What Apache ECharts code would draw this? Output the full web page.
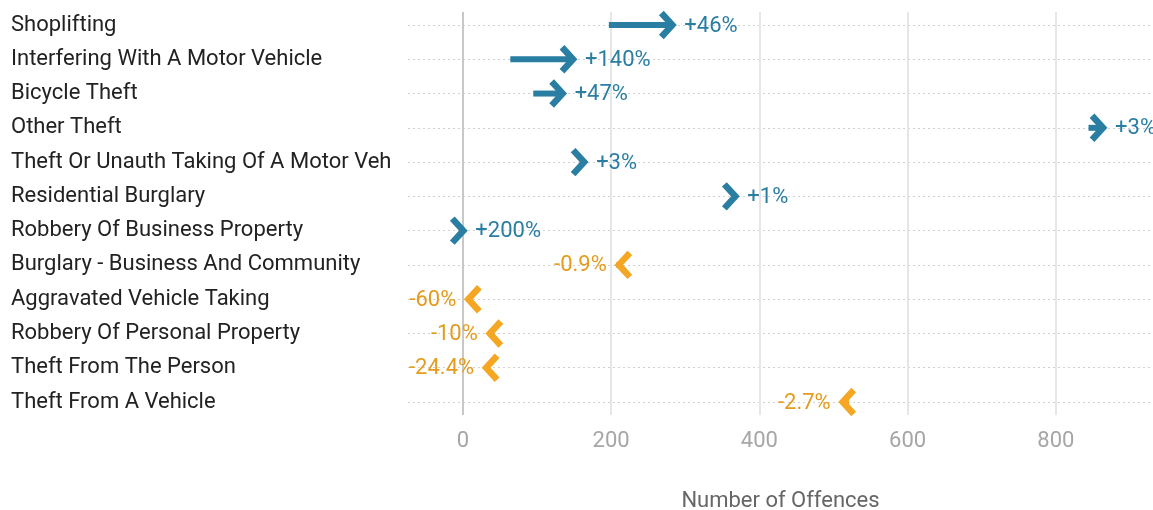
<!DOCTYPE html>
<html>
<head>
<meta charset="utf-8">
<script src="https://cdn.jsdelivr.net/npm/echarts@6/dist/echarts.min.js"></script>
<style>
  html, body { margin: 0; padding: 0; background: #fff; }
  #chart { width: 1153px; height: 510px; }
</style>
</head>
<body>
<div id="chart"></div>
<script>
const categories = [
  'Shoplifting',
  'Interfering With A Motor Vehicle',
  'Bicycle Theft',
  'Other Theft',
  'Theft Or Unauth Taking Of A Motor Veh',
  'Residential Burglary',
  'Robbery Of Business Property',
  'Burglary - Business And Community',
  'Aggravated Vehicle Taking',
  'Robbery Of Personal Property',
  'Theft From The Person',
  'Theft From A Vehicle'
]
const startValues = [197, 64, 95, 844, 164, 369, 2, 207, 5, 34, 34, 521]
const endValues = [288, 154, 140, 869, 169, 373, 6, 205, 2, 31, 26, 507]
const changeLabels = ['+46%', '+140%', '+47%', '+3%', '+3%', '+1%', '+200%', '-0.9%', '-60%', '-10%', '-24.4%', '-2.7%']
const xTicks = [0, 200, 400, 600, 800]

const BLUE = '#2a7ea2'
const ORANGE = '#f5a623'
const ORANGE_TEXT = '#e39c1e'
const FONT = 'Roboto'

const chart = echarts.init(document.getElementById('chart'), null, { renderer: 'canvas' })

// draw one arrow: shaft from start to end, chevron head at end, label beyond the tip
function renderArrow (params, api) {
  const s = api.coord([api.value(1), api.value(0)])
  const e = api.coord([api.value(2), api.value(0)])
  const up = api.value(2) >= api.value(1)
  const dir = up ? 1 : -1
  const color = up ? BLUE : ORANGE
  const apex = e[0] - dir * 4
  const y = e[1]
  const dx = 11
  const dy = 12
  return {
    type: 'group',
    children: [
      {
        type: 'line',
        shape: { x1: s[0], y1: y, x2: apex - dir * 2, y2: y },
        style: { stroke: color, lineWidth: 6, lineCap: 'butt' }
      },
      {
        type: 'polyline',
        shape: { points: [[apex - dir * dx, y - dy], [apex, y], [apex - dir * dx, y + dy]] },
        style: { stroke: color, fill: null, lineWidth: 6.5, lineJoin: 'miter', lineCap: 'butt' }
      },
      {
        type: 'text',
        x: e[0] + dir * 8,
        y: y + 1,
        style: {
          text: changeLabels[params.dataIndex],
          fill: up ? BLUE : ORANGE_TEXT,
          font: '22px ' + FONT,
          align: up ? 'left' : 'right',
          verticalAlign: 'middle'
        }
      }
    ]
  }
}

chart.setOption({
  animation: false,
  textStyle: { fontFamily: FONT },
  grid: [
    { left: 408, right: 0, top: 25, bottom: 108, outerBoundsMode: 'none' },
    { left: 408, right: 0, top: 12, bottom: 95, outerBoundsMode: 'none' }
  ],
  xAxis: [
    {
      gridIndex: 0,
      type: 'value',
      min: -74,
      max: 931,
      show: false
    },
    {
      gridIndex: 1,
      type: 'value',
      min: -74,
      max: 931,
      axisLine: { show: false },
      axisTick: { show: false, customValues: xTicks },
      axisLabel: { customValues: xTicks, color: '#a6a6a6', fontSize: 22, margin: 15 },
      splitLine: {
        show: true,
        lineStyle: { color: ['#c8c8c8', '#e6e6e6', '#e6e6e6', '#e6e6e6', '#e6e6e6'], width: 2 }
      },
      name: 'Number of Offences',
      nameLocation: 'middle',
      nameGap: 75,
      nameTextStyle: { color: '#666', fontSize: 22 }
    }
  ],
  yAxis: [
    {
      gridIndex: 0,
      type: 'category',
      data: categories,
      inverse: true,
      boundaryGap: false,
      axisLine: { show: false },
      axisTick: { show: false },
      axisLabel: { align: 'left', margin: 397, color: '#222', fontSize: 22, padding: [2, 0, 0, 0] },
      splitLine: { show: true, lineStyle: { color: '#d0d0d0', type: [2, 3], width: 1 } }
    },
    {
      gridIndex: 1,
      type: 'value',
      show: false
    }
  ],
  series: [
    {
      type: 'custom',
      xAxisIndex: 0,
      yAxisIndex: 0,
      renderItem: renderArrow,
      encode: { x: [1, 2], y: 0 },
      data: categories.map((c, i) => [i, startValues[i], endValues[i]]),
      z: 5
    }
  ]
})
</script>
</body>
</html>
